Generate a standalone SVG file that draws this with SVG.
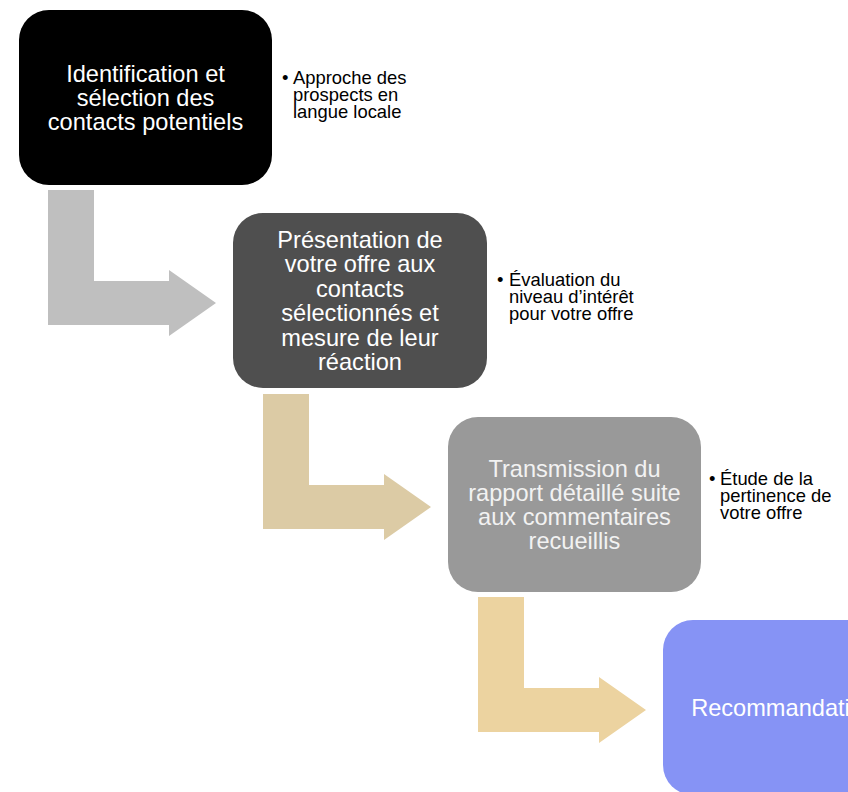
<svg xmlns="http://www.w3.org/2000/svg" width="848" height="792" viewBox="0 0 848 792">
<style>
.box{stroke:none}
.bt{font-family:"Liberation Sans",Arial,sans-serif;font-size:23.6px;fill:#ffffff;text-anchor:middle}
.st{font-family:"Liberation Sans",Arial,sans-serif;font-size:18.4px;fill:#000000}
</style>
<rect width="848" height="792" fill="#ffffff"/>
<g id="connectors">
<path id="arrow1" d="M48,190 H94 V281 H169 V270 L216,303 L169,336 V325 H48 Z" fill="#bfbfbf"/>
<path id="arrow2" d="M263,394 H309 V485 H384 V474 L431,507 L384,540 V529 H263 Z" fill="#dccba5"/>
<path id="arrow3" d="M478,597 H524 V688 H599 V677 L646,710 L599,743 V732 H478 Z" fill="#ecd3a0"/>
</g>
<g id="node1">
<rect class="box" x="19" y="10" width="253" height="175" rx="30" fill="#000000"/>
<text class="bt"><tspan x="145.5" y="82">Identification et</tspan><tspan x="145.5" y="106">sélection des</tspan><tspan x="145.5" y="130">contacts potentiels</tspan></text>
</g>
<g id="note1">
<text class="st" x="282" y="84">•</text>
<text class="st"><tspan x="293" y="84">Approche des</tspan><tspan x="293" y="101">prospects en</tspan><tspan x="293" y="118">langue locale</tspan></text>
</g>
<g id="node2">
<rect class="box" x="233" y="213" width="254" height="175" rx="30" fill="#4f4f4f"/>
<text class="bt"><tspan x="360" y="248">Présentation de</tspan><tspan x="360" y="272">votre offre aux</tspan><tspan x="360" y="297">contacts</tspan><tspan x="360" y="321">sélectionnés et</tspan><tspan x="360" y="346">mesure de leur</tspan><tspan x="360" y="370">réaction</tspan></text>
</g>
<g id="note2">
<text class="st" x="497" y="286">•</text>
<text class="st"><tspan x="509" y="286">Évaluation du</tspan><tspan x="509" y="303">niveau d’intérêt</tspan><tspan x="509" y="320">pour votre offre</tspan></text>
</g>
<g id="node3">
<rect class="box" x="448" y="417" width="253" height="175" rx="30" fill="#999999"/>
<text class="bt" style="fill:#f2f2f2"><tspan x="574.5" y="477">Transmission du</tspan><tspan x="574.5" y="501">rapport détaillé suite</tspan><tspan x="574.5" y="525">aux commentaires</tspan><tspan x="574.5" y="549">recueillis</tspan></text>
</g>
<g id="note3">
<text class="st" x="709" y="485">•</text>
<text class="st"><tspan x="720" y="485">Étude de la</tspan><tspan x="720" y="502">pertinence de</tspan><tspan x="720" y="519">votre offre</tspan></text>
</g>
<g id="node4">
<rect class="box" x="663" y="620" width="253" height="175" rx="30" fill="#8693f5"/>
<text class="bt"><tspan x="789.5" y="716">Recommandations</tspan></text>
</g>
</svg>
